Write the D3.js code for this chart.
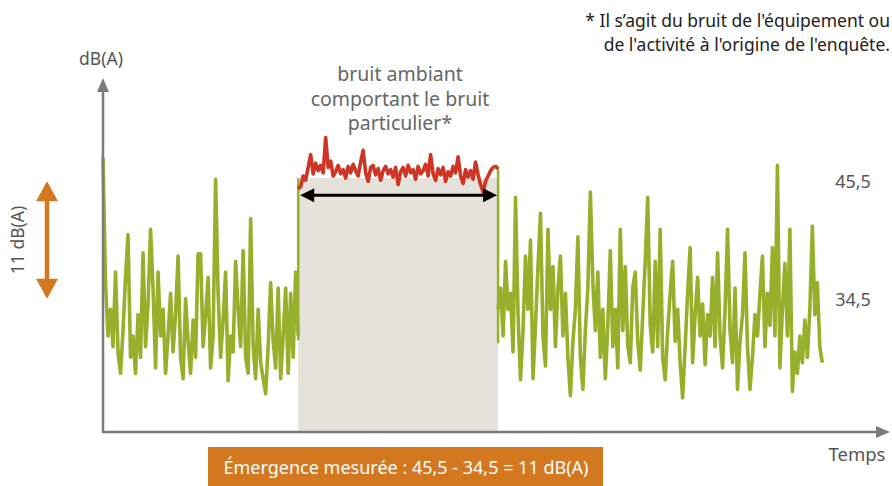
<!DOCTYPE html>
<html>
<head>
<meta charset="utf-8">
<script src="https://cdn.jsdelivr.net/npm/d3@7"></script>
<style>
  body { margin: 0; background: #fff; }
  text { font-family: "Noto Sans", "Open Sans", sans-serif; }
</style>
</head>
<body>
<div id="container"></div>
<script>
// time bounds of each part of the recording (arbitrary time units)
var timeDomain = [0, 100];
var leftSpan = [0, 24.8];
var partSpan = [24.8, 50.2];
var rightSpan = [50.2, 91.4];

// noise levels in dB(A)
var leftNoise = [47.7, 36, 31.0, 33.5, 30.0, 37.0, 29.5, 27.5, 31.5, 36.5, 40.5, 29.0, 31.0, 27.5, 33.0, 29.0,
  38.8, 30.0, 34.0, 41.0, 35.5, 28.0, 37.0, 31.0, 33.5, 27.5, 31.0, 35.0, 29.5, 33.0, 38.5, 29.0, 27.0, 34.5,
  30.5, 27.5, 32.5, 29.0, 38.7, 38.7, 30.0, 33.0, 36.5, 28.0, 31.0, 45.7, 35.0, 29.0, 32.5, 37.0, 26.8, 31.0,
  29.5, 38.0, 33.5, 30.0, 39.0, 29.0, 27.5, 42.0, 30.0, 27.0, 33.5, 28.5, 27.0, 25.6, 30.0, 36.0, 30.5, 28.0,
  35.5, 27.0, 31.0, 35.5, 27.5, 35.0, 29.0, 37.0, 31.0];

var particularNoise = [44.8, 45.0, 46.0, 45.6, 46.8, 48.0, 46.2, 47.2, 46.5, 47.0, 46.3, 49.6, 46.8, 47.4, 46.0,
  46.4, 47.0, 46.2, 46.6, 45.8, 46.9, 46.3, 47.1, 46.5, 46.0, 47.3, 48.4, 46.3, 45.5, 46.8, 47.0, 46.1, 46.7,
  45.6, 46.5, 46.9, 46.2, 46.6, 45.9, 46.8, 45.2, 46.4, 46.8, 46.0, 47.0, 46.3, 46.6, 45.7, 46.9, 46.2, 46.5,
  47.1, 46.0, 48.0, 46.2, 45.6, 46.7, 46.1, 46.8, 45.5, 46.4, 46.0, 46.9, 46.3, 47.8, 46.0, 45.3, 46.6, 45.9,
  46.5, 45.7, 47.3, 46.1, 45.2, 44.5, 45.5, 46.0, 46.5, 46.8, 46.9, 46.7];

var rightNoise = [33.5, 35.5, 31.0, 38.0, 33.5, 35.0, 29.5, 44.0, 33.0, 26.9, 31.5, 38.5, 33.5, 40.0, 27.0, 32.0,
  37.5, 42.5, 31.0, 28.2, 41.0, 33.5, 37.5, 30.0, 35.5, 38.5, 31.0, 35.0, 29.0, 25.4, 30.5, 33.5, 40.3, 29.0,
  26.0, 31.5, 35.5, 44.5, 36.0, 31.5, 37.0, 29.0, 33.5, 27.0, 32.0, 39.0, 30.0, 33.5, 28.0, 41.0, 31.5, 37.5,
  30.0, 28.5, 35.5, 37.0, 30.5, 27.8, 33.0, 38.0, 44.0, 32.0, 29.5, 38.0, 30.0, 41.0, 29.0, 26.9, 31.5, 35.0,
  38.0, 30.5, 33.5, 28.5, 25.2, 30.0, 35.0, 39.3, 28.5, 33.0, 36.5, 31.0, 34.0, 28.3, 33.0, 31.0, 36.5, 30.0,
  38.8, 31.0, 28.0, 33.5, 41.0, 31.5, 28.5, 35.5, 26.0, 30.5, 33.0, 38.8, 30.0, 26.0, 29.0, 33.0, 31.0, 35.0,
  38.5, 30.0, 35.0, 32.0, 39.3, 31.0, 47.0, 28.0, 33.5, 37.8, 31.0, 41.0, 25.8, 29.5, 27.5, 31.0, 28.5, 32.5,
  29.0, 33.5, 41.3, 33.0, 36.0, 30.0, 28.5];

// vertical green edges at start / end of the particular noise [top, bottom] in dB(A)
var edgeLevels = [[45.8, 30.6], [46.8, 30.3]];
var boxTop = 45.8;
var arrowLevel = 44.2;

var levelHigh = 45.5;
var levelLow = 34.5;
var levelLabels = ["45,5", "34,5"];

function init() {
    var W = 892, H = 486;
    var svg = d3.select("#container").append("svg")
        .attr("width", W).attr("height", H);

    var x = d3.scaleLinear().domain(timeDomain).range([103, 890]);
    var y = d3.scaleLinear().domain([22, 55]).range([432, 80]);

    var green = "#97b02b", red = "#cf3524", orange = "#d4781f", axisCol = "#7b7c80";

    function series(vals, span) {
        var step = (span[1] - span[0]) / (vals.length - 1);
        return vals.map(function (v, i) { return { t: span[0] + i * step, v: v }; });
    }

    // grey box for the period of the particular noise
    svg.append("rect")
        .attr("x", x(partSpan[0]))
        .attr("y", y(boxTop))
        .attr("width", x(partSpan[1]) - x(partSpan[0]))
        .attr("height", y(22) - y(boxTop))
        .attr("fill", "#e5e2db");

    var line = d3.line()
        .x(function (d) { return x(d.t); })
        .y(function (d) { return y(d.v); });

    [leftNoise, rightNoise].forEach(function (vals, i) {
        svg.append("path")
            .datum(series(vals, i === 0 ? leftSpan : rightSpan))
            .attr("d", line)
            .attr("fill", "none")
            .attr("stroke", green)
            .attr("stroke-width", 3.6)
            .attr("stroke-linejoin", "round");
    });

    svg.selectAll(".edge")
        .data(edgeLevels)
        .enter().append("line")
        .attr("x1", function (d, i) { return x(i === 0 ? partSpan[0] : partSpan[1]); })
        .attr("x2", function (d, i) { return x(i === 0 ? partSpan[0] : partSpan[1]); })
        .attr("y1", function (d) { return y(d[0]); })
        .attr("y2", function (d) { return y(d[1]); })
        .attr("stroke", green)
        .attr("stroke-width", 2.5);

    svg.append("path")
        .datum(series(particularNoise, partSpan))
        .attr("d", line)
        .attr("fill", "none")
        .attr("stroke", red)
        .attr("stroke-width", 3.6)
        .attr("stroke-linejoin", "round");

    // black double arrow over the period
    var ax1 = x(partSpan[0]) + 2, ax2 = x(partSpan[1]) - 1, ay = y(arrowLevel);
    svg.append("line")
        .attr("x1", ax1 + 8).attr("x2", ax2 - 8)
        .attr("y1", ay).attr("y2", ay)
        .attr("stroke", "#000").attr("stroke-width", 3);
    svg.append("path")
        .attr("d", "M" + ax1 + "," + ay + "l14,-7l0,14z M" + ax2 + "," + ay + "l-14,-7l0,14z")
        .attr("fill", "#000");

    // axes with arrow heads
    var x0 = x(0), yb = y(22);
    svg.append("line")
        .attr("x1", x0).attr("x2", x0).attr("y1", yb + 1).attr("y2", 90)
        .attr("stroke", axisCol).attr("stroke-width", 2.5);
    svg.append("line")
        .attr("x1", x0).attr("x2", 880).attr("y1", yb).attr("y2", yb)
        .attr("stroke", axisCol).attr("stroke-width", 2.5);
    svg.append("path")
        .attr("d", "M" + x0 + ",78l-6,14l12,0z M890," + yb + "l-14,-6l0,12z")
        .attr("fill", axisCol);

    svg.append("text")
        .attr("x", 101).attr("y", 65)
        .attr("text-anchor", "middle")
        .style("font-size", "17.5px").attr("fill", "#555")
        .text("dB(A)");

    svg.append("text")
        .attr("x", 857).attr("y", 461)
        .attr("text-anchor", "middle")
        .style("font-size", "18.5px").attr("fill", "#555")
        .text("Temps");

    // orange 11 dB(A) arrow
    var ox = 47, yh = y(levelHigh), yl = y(levelLow);
    svg.append("line")
        .attr("x1", ox).attr("x2", ox).attr("y1", yh + 15).attr("y2", yl - 15)
        .attr("stroke", orange).attr("stroke-width", 4.5);
    svg.append("path")
        .attr("d", "M" + ox + "," + yh + "l-11,20l22,0z M" + ox + "," + yl + "l-11,-20l22,0z")
        .attr("fill", orange);
    svg.append("text")
        .attr("transform", "translate(24," + ((yh + yl) / 2) + ") rotate(-90)")
        .attr("text-anchor", "middle")
        .style("font-size", "17.5px").attr("fill", "#555")
        .text("11 dB(A)");

    svg.selectAll(".lvl")
        .data([levelHigh, levelLow])
        .enter().append("text")
        .attr("x", 853)
        .attr("y", function (d) { return y(d) + 7; })
        .attr("text-anchor", "middle")
        .style("font-size", "18px").attr("fill", "#555")
        .text(function (d, i) { return levelLabels[i]; });

    // title over the period
    var title = ["bruit ambiant", "comportant le bruit", "particulier*"];
    svg.selectAll(".ttl")
        .data(title)
        .enter().append("text")
        .attr("x", 400)
        .attr("y", function (d, i) { return 81 + i * 24.5; })
        .attr("text-anchor", "middle")
        .style("font-size", "19.5px").attr("fill", "#666")
        .text(function (d) { return d; });

    // footnote
    var note = ["* Il s\u2019agit du bruit de l'\u00e9quipement ou", "de l'activit\u00e9 \u00e0 l'origine de l'enqu\u00eate."];
    svg.selectAll(".note")
        .data(note)
        .enter().append("text")
        .attr("x", 890)
        .attr("y", function (d, i) { return 27 + i * 24; })
        .attr("text-anchor", "end")
        .style("font-size", "17.5px").attr("fill", "#222")
        .text(function (d) { return d; });

    // result banner
    svg.append("rect")
        .attr("x", 208).attr("y", 447).attr("width", 395).attr("height", 39)
        .attr("fill", orange);
    svg.append("text")
        .attr("x", 406).attr("y", 474)
        .attr("text-anchor", "middle")
        .style("font-size", "18px").attr("fill", "#fff")
        .text("\u00c9mergence mesur\u00e9e : 45,5 - 34,5 = 11 dB(A)");
}
init();
</script>
</body>
</html>
